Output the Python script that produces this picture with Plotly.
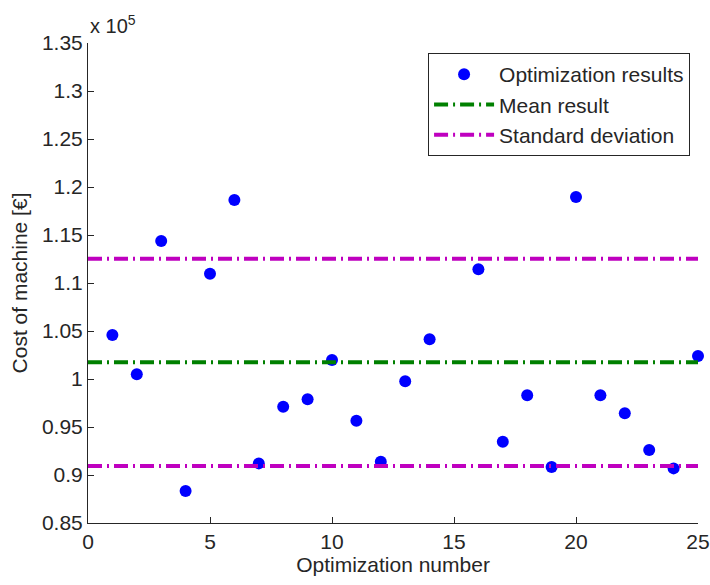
import plotly.graph_objects as go

# Data
run_number = list(range(1, 26))
cost_eur = [104580, 100490, 114370, 88330, 110970, 118650, 91210, 97110, 97880,
            101980, 95660, 91390, 99760, 104130, 133000, 111430, 93470, 98300,
            90830, 118960, 98300, 96430, 92600, 90690, 102400]
mean_cost = 101740
std_cost = 10790
scale = 1e5
x_ticks = [0, 5, 10, 15, 20, 25]
y_tick_labels = ["0.85", "0.9", "0.95", "1", "1.05", "1.1", "1.15", "1.2", "1.25", "1.3", "1.35"]

y_scaled = [c / scale for c in cost_eur]
m = mean_cost / scale
s = std_cost / scale
x_span = [x_ticks[0], x_ticks[-1]]

FONT = "Liberation Sans, Arial, Helvetica, sans-serif"
TXT = "#262626"
dash = "14px,5px,2px,5px"

fig = go.Figure()
fig.add_trace(go.Scatter(
    x=run_number, y=y_scaled, mode="markers", name="Optimization results",
    marker=dict(color="#0000ff", size=12, line=dict(width=0)), cliponaxis=False))
fig.add_trace(go.Scatter(
    x=x_span, y=[m, m], mode="lines", name="Mean result",
    line=dict(color="#008000", width=4, dash=dash)))
fig.add_trace(go.Scatter(
    x=x_span + [None] + x_span, y=[m + s, m + s, None, m - s, m - s],
    mode="lines", name="Standard deviation",
    line=dict(color="#bf00bf", width=4, dash=dash)))

tickvals_y = [float(t) for t in y_tick_labels]

fig.update_layout(
    width=710, height=585,
    margin=dict(l=88, r=12, t=43, b=62, autoexpand=False),
    paper_bgcolor="white", plot_bgcolor="white",
    font=dict(family=FONT, size=21, color=TXT),
    showlegend=True,
    legend=dict(x=0.987, y=0.979, xanchor="right", yanchor="top",
                bgcolor="white", bordercolor="#262626", borderwidth=1,
                font=dict(size=21, color=TXT), tracegroupgap=0,
                itemwidth=60),
    xaxis=dict(range=x_span, tickvals=x_ticks, ticks="inside", ticklen=6,
               tickcolor=TXT, showline=True, linecolor=TXT, linewidth=1,
               showgrid=False, zeroline=False, mirror=False, automargin=False,
               title=dict(text="Optimization number", font=dict(size=21), standoff=4),
               tickfont=dict(size=21)),
    yaxis=dict(range=[0.85, 1.35], tickvals=tickvals_y, ticktext=y_tick_labels,
               ticks="inside", ticklen=6, tickcolor=TXT, showline=True,
               linecolor=TXT, linewidth=1, showgrid=False, zeroline=False,
               automargin=False,
               title=dict(text="Cost of machine [€]", font=dict(size=21), standoff=8),
               tickfont=dict(size=21)),
    annotations=[dict(text="x 10<sup>5</sup>", xref="paper", yref="paper",
                      x=0, y=1, xanchor="left", yanchor="bottom", showarrow=False,
                      font=dict(size=20, color=TXT), yshift=4)],
)

fig.write_html("out.html")
